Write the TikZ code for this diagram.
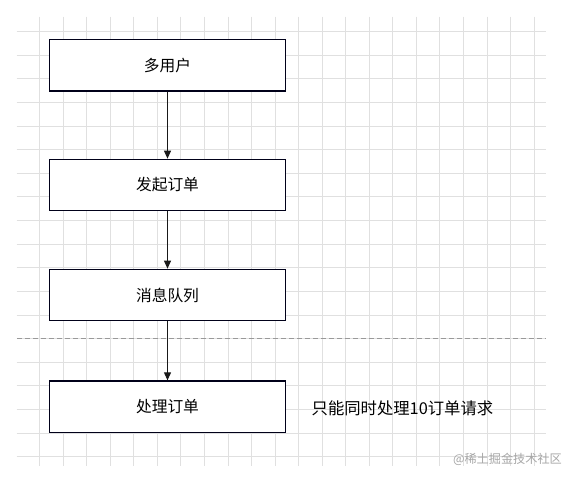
\documentclass[tikz,border=0pt]{standalone}
\usepackage{fontspec}
\setmainfont{Noto Sans CJK SC}
\usetikzlibrary{arrows.meta}
\begin{document}
\begin{tikzpicture}[x=1bp,y=-1bp,
  gridline/.style={draw=black!12,line width=0.8bp},
  stepbox/.style={draw=black!90!blue,line width=1.2bp,fill=white,minimum width=236bp,minimum height=51.5bp,inner sep=0pt,font=\fontsize{15.8}{18}\selectfont},
  flow/.style={draw=black!90,line width=1bp,-{Triangle[width=7bp,length=8bp]}},
  note/.style={font=\fontsize{16.4}{18}\selectfont,inner sep=0pt,anchor=west},
  wmark/.style={font=\fontsize{12.2}{14}\selectfont,text=black!35,inner sep=0pt,anchor=east}]
\useasboundingbox (0,0) rectangle (576,480);
\fill[white] (0,0) rectangle (576,480);
% grid
\foreach \i in {0,...,21} {
  \draw[gridline] ({39.5+23.55*\i},16.7) -- ({39.5+23.55*\i},466);
}
\foreach \j in {0,...,18} {
  \draw[gridline] (16.7,{31.7+23.6*\j}) -- (546,{31.7+23.6*\j});
}
% dashed separator
\coordinate (dl) at (17,338.3);
\coordinate (dr) at (546,338.3);
\draw[black!40,line width=0.9bp,dash pattern=on 5bp off 3bp] (dl) -- (dr);
% boxes
\node[stepbox] (users) at (167.5,65.2) {多用户};
\node[stepbox] (order) at (167.5,185) {发起订单};
\node[stepbox] (queue) at (167.5,295) {消息队列};
\node[stepbox] (proc) at (167.5,406.7) {处理订单};
\draw[flow] (users) -- (order);
\draw[flow] (order) -- (queue);
\draw[flow] (queue) -- (proc);
\node[note] (limit) at (311.5,408) {只能同时处理10订单请求};
\node[wmark] (wm) at (562,459) {@稀土掘金技术社区};
\end{tikzpicture}
\end{document}
